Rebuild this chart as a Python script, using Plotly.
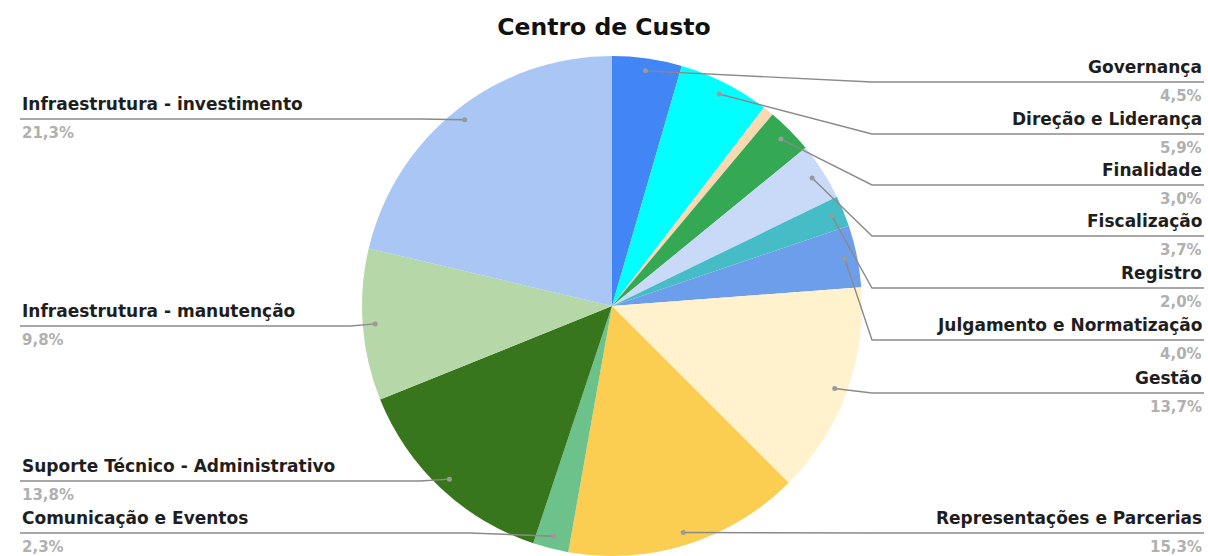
import math
import plotly.graph_objects as go

# Cost centres, clockwise from 12 o'clock
categorias = [
    "Governança",
    "Direção e Liderança",
    "Outros",
    "Finalidade",
    "Fiscalização",
    "Registro",
    "Julgamento e Normatização",
    "Gestão",
    "Representações e Parcerias",
    "Comunicação e Eventos",
    "Suporte Técnico - Administrativo",
    "Infraestrutura - manutenção",
    "Infraestrutura - investimento",
]
percentuais = [4.5, 5.9, 0.7, 3.0, 3.7, 2.0, 4.0, 13.7, 15.3, 2.3, 13.8, 9.8, 21.3]
cores = [
    "#4285F4", "#00FFFF", "#F8D9B2", "#34A853", "#C9DAF8", "#46BDC6",
    "#6D9EEB", "#FFF2CC", "#FBCD50", "#6CC28A", "#38761D", "#B6D7A8",
    "#A9C6F5",
]

# Callout placement: side, y of the leader line, x where the leader bends
rotulos = {
    "Governança": ("right", 82, 872),
    "Direção e Liderança": ("right", 134, 872),
    "Finalidade": ("right", 185, 872),
    "Fiscalização": ("right", 236, 872),
    "Registro": ("right", 288, 872),
    "Julgamento e Normatização": ("right", 340, 872),
    "Gestão": ("right", 393, 872),
    "Representações e Parcerias": ("right", 533, 872),
    "Infraestrutura - investimento": ("left", 119, 420),
    "Infraestrutura - manutenção": ("left", 326, 350),
    "Suporte Técnico - Administrativo": ("left", 481, 420),
    "Comunicação e Eventos": ("left", 533, 470),
}

W, H = 1208, 556
CX, CY, R = 612, 306, 250
X_ESQ, X_DIR = 20, 1204


def px(x, y):
    return x / W, 1 - y / H


fig = go.Figure()
fig.add_trace(go.Pie(
    labels=categorias,
    values=percentuais,
    sort=False,
    direction="clockwise",
    rotation=0,
    marker=dict(colors=cores, line=dict(width=0)),
    textinfo="none",
    hoverinfo="label+percent",
    showlegend=False,
    domain=dict(x=[(CX - R) / W, (CX + R) / W], y=[(H - (CY + R)) / H, (H - (CY - R)) / H]),
))

total = sum(percentuais)
acum = 0.0
shapes = []
annotations = []
for nome, v in zip(categorias, percentuais):
    meio = (acum + v / 2) / total * 2 * math.pi
    acum += v
    if nome not in rotulos:
        continue
    lado, ly, bend = rotulos[nome]
    dx = CX + 0.95 * R * math.sin(meio)
    dy = CY - 0.95 * R * math.cos(meio)
    if lado == "right":
        pts = [(dx, dy), (bend, ly), (X_DIR, ly)]
        tx, anchor = X_DIR, "right"
    else:
        pts = [(dx, dy), (bend, ly), (X_ESQ, ly)]
        tx, anchor = X_ESQ, "left"
    path = "M " + " L ".join(f"{px(a, b)[0]:.5f},{px(a, b)[1]:.5f}" for a, b in pts)
    shapes.append(dict(type="path", xref="paper", yref="paper", path=path,
                       line=dict(color="#8a8a8a", width=1.4), layer="above"))
    x0, y0 = px(dx - 2.5, dy - 2.5)
    x1, y1 = px(dx + 2.5, dy + 2.5)
    shapes.append(dict(type="circle", xref="paper", yref="paper",
                       x0=x0, x1=x1, y0=y0, y1=y1,
                       fillcolor="#9a9a9a", line=dict(width=0), layer="above"))
    ax, ay = px(tx, ly - 15)
    annotations.append(dict(x=ax, y=ay, xref="paper", yref="paper", text=f"<b>{nome}</b>",
                            showarrow=False, xanchor=anchor, yanchor="middle",
                            font=dict(family="DejaVu Sans", size=17, color="#1e1e1e")))
    pct = f"{v / total * 100:.1f}".replace(".", ",") + "%"
    ax, ay = px(tx, ly + 14)
    annotations.append(dict(x=ax, y=ay, xref="paper", yref="paper", text=f"<b>{pct}</b>",
                            showarrow=False, xanchor=anchor, yanchor="middle",
                            font=dict(family="DejaVu Sans", size=15, color="#b0b0b0")))

fig.update_layout(
    width=W, height=H,
    margin=dict(l=0, r=0, t=0, b=0),
    paper_bgcolor="white", plot_bgcolor="white",
    title=dict(text="<b>Centro de Custo</b>", x=0.5, xanchor="center", y=1 - 27 / H, yanchor="middle",
               font=dict(family="DejaVu Sans", size=23.5, color="#111111")),
    shapes=shapes,
    annotations=annotations,
)

fig.write_html("out.html")
